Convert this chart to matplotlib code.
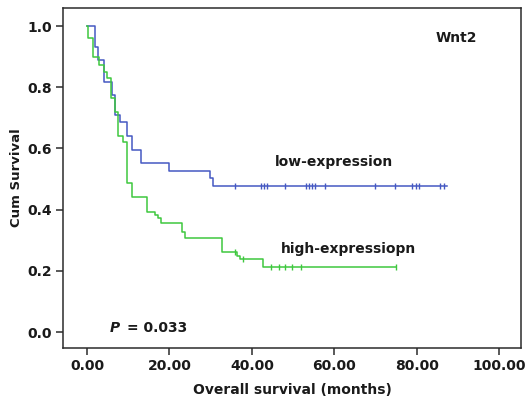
import matplotlib.pyplot as plt
import numpy as np

# Kaplan-Meier step data (time in months, cumulative survival after the step)
low_t = [0, 1.9, 2.7, 4.0, 6.0, 6.8, 8.0, 9.8, 10.8, 13.0, 19.9, 29.9, 30.6]
low_s = [1.0, 0.932, 0.889, 0.818, 0.775, 0.709, 0.687, 0.641, 0.595, 0.551, 0.525, 0.503, 0.477]
low_end = 87.4
low_cens = [35.9, 42.2, 43.0, 43.7, 48.1, 53.2, 53.9, 54.6, 55.3, 57.8,
            69.9, 74.8, 78.9, 79.9, 80.6, 85.7, 86.7]

high_t = [0, 0.3, 1.5, 3.0, 4.0, 4.8, 5.7, 6.8, 7.6, 8.8, 9.6, 10.9, 14.5,
          16.5, 17.3, 18.0, 23.0, 23.8, 32.7, 36.3, 37.0, 42.8]
high_s = [1.0, 0.96, 0.90, 0.873, 0.85, 0.83, 0.765, 0.72, 0.64, 0.62, 0.486, 0.44, 0.393,
          0.382, 0.372, 0.355, 0.328, 0.306, 0.262, 0.25, 0.238, 0.213]
high_end = 75.0
high_cens = [35.9, 37.9, 44.7, 46.6, 48.0, 49.8, 51.9, 75.0]

xticks = [0, 20, 40, 60, 80, 100]
yticks = [0.0, 0.2, 0.4, 0.6, 0.8, 1.0]

BLUE = '#4558c2'
GREEN = '#3ec83e'
DARK = '#2b2b2b'
TXT = '#1a1a1a'

fig = plt.figure(figsize=(5.28, 4.03), dpi=100)
ax = fig.add_axes([0.1193, 0.1365, 0.8674, 0.8435])


def km(ax, t, s, end, cens, color):
    tt = list(t) + [end]
    ss = list(s) + [s[-1]]
    ax.step(tt, ss, where='post', color=color, lw=1.1)
    # censor marks sit on the curve at their time
    idx = np.searchsorted(t, cens, side='right') - 1
    cy = np.array(s)[idx]
    ax.plot(cens, cy, linestyle='none', marker='|', markersize=5,
            markeredgewidth=1.0, color=color)


km(ax, low_t, low_s, low_end, low_cens, BLUE)
km(ax, high_t, high_s, high_end, high_cens, GREEN)

ax.set_xlim(-5.83, 105.3)
ax.set_ylim(-0.052, 1.059)
ax.set_xticks(xticks)
ax.set_xticklabels(['%.2f' % v for v in xticks])
ax.set_yticks(yticks)
ax.set_yticklabels(['%.1f' % v for v in yticks])
for sp in ax.spines.values():
    sp.set_color(DARK)
    sp.set_linewidth(1.1)
ax.tick_params(direction='out', length=5, width=1.1, color=DARK,
               labelsize=10, labelcolor=TXT, pad=3)
for lab in ax.get_xticklabels() + ax.get_yticklabels():
    lab.set_fontweight('bold')

ax.set_xlabel('Overall survival (months)', fontsize=10, fontweight='bold',
              color=TXT, labelpad=7)
ax.set_ylabel('Cum Survival', fontsize=9.5, fontweight='bold',
              color=TXT, labelpad=3)

ax.text(89.5, 0.96, 'Wnt2', fontsize=10, fontweight='bold', ha='center',
        va='center', color=TXT)
ax.text(45.7, 0.556, 'low-expression', fontsize=10, fontweight='bold',
        ha='left', va='center', color=TXT)
ax.text(47.0, 0.270, 'high-expressiopn', fontsize=10, fontweight='bold',
        ha='left', va='center', color=TXT)
ax.text(5.6, 0.012, 'P', fontsize=10, fontweight='bold', style='italic',
        ha='left', va='center', color=TXT)
ax.text(9.6, 0.012, '= 0.033', fontsize=10, fontweight='bold',
        ha='left', va='center', color=TXT)

fig.savefig('out.png', dpi=100)
